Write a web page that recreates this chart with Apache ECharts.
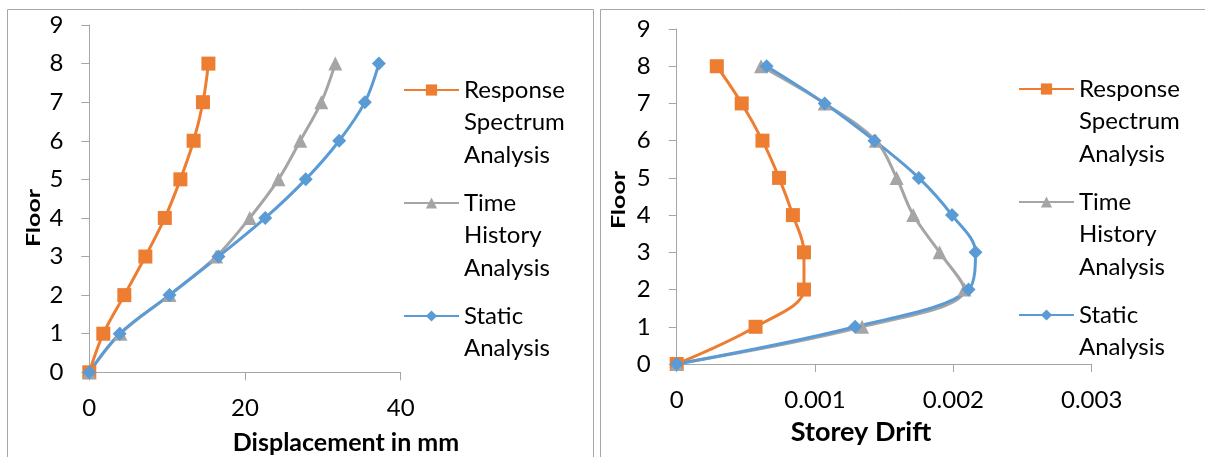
<!DOCTYPE html>
<html>
<head>
<meta charset="utf-8">
<script src="https://cdn.jsdelivr.net/npm/echarts@6/dist/echarts.min.js"></script>
<style>
  html, body { margin: 0; padding: 0; background: #fff; }
  #chart { width: 1205px; height: 457px; }
</style>
</head>
<body>
<div id="chart"></div>
<script>
// Floor levels (shared by both panels)
const floors = [0, 1, 2, 3, 4, 5, 6, 7, 8];

// Lateral displacement (mm) per floor
const dispRS     = [0, 1.8, 4.5, 7.2, 9.7, 11.7, 13.4, 14.6, 15.3];
const dispTH     = [0, 4.0, 10.3, 16.3, 20.6, 24.3, 27.1, 29.8, 31.6];
const dispStatic = [0, 3.9, 10.3, 16.6, 22.6, 27.8, 32.1, 35.4, 37.2];

// Storey drift ratio per floor
const driftRS     = [0, 0.00057, 0.00092, 0.00092, 0.00084, 0.00074, 0.00062, 0.00047, 0.00029];
const driftTH     = [0, 0.00134, 0.00208, 0.00190, 0.00171, 0.00159, 0.00144, 0.00107, 0.00061];
const driftStatic = [0, 0.00129, 0.00211, 0.00216, 0.00199, 0.00175, 0.00143, 0.00107, 0.00065];

const seriesNames = ['Response\nSpectrum\nAnalysis', 'Time\nHistory\nAnalysis', 'Static\nAnalysis'];
const colors = ['#ED7D31', '#A5A5A5', '#5B9BD5'];
const symbols = ['rect', 'triangle', 'diamond'];
const symbolSizes = [14, 14, 14];

const FONT = 'Lato, "Open Sans", sans-serif';
const AXIS_COLOR = '#A6A6A6';
const LEGEND_LINE = 32.5;

function pairs(xs) { return xs.map((x, i) => [x, floors[i]]); }

function makeSeries(values, idx, axisIdx) {
  return {
    name: seriesNames[idx],
    type: 'line',
    xAxisIndex: axisIdx,
    yAxisIndex: axisIdx,
    data: pairs(values),
    smooth: 0.35,
    symbol: symbols[idx],
    symbolSize: symbolSizes[idx],
    showAllSymbol: true,
    color: colors[idx],
    lineStyle: { width: 3, color: colors[idx] },
    itemStyle: { color: colors[idx] },
    animation: false
  };
}

function valueAxis(gridIndex, min, max, interval, margin) {
  return {
    type: 'value',
    gridIndex: gridIndex,
    min: min, max: max, interval: interval,
    splitLine: { show: false },
    axisLine: { show: true, onZero: false, lineStyle: { color: AXIS_COLOR, width: 1 } },
    axisTick: { show: true, length: 8, lineStyle: { color: AXIS_COLOR } },
    axisLabel: { color: '#000', fontFamily: FONT, fontSize: 24, margin: margin }
  };
}

// Each legend label is padded to five lines (two blank lines ahead, the rest
// after) so the marker sits level with the first text line; the negative gap
// closes up the extra space between items.
function legendLabel(name) {
  const n = name.split('\n').length;
  return '\n\n' + name + '\n'.repeat(3 - n);
}

function legendFor(left, firstLineY) {
  return {
    orient: 'vertical',
    left: left,
    top: firstLineY - 2.5 * LEGEND_LINE,
    padding: 0,
    itemWidth: 55,
    itemHeight: 14,
    itemGap: 15.5 - 2 * LEGEND_LINE,
    selectedMode: false,
    data: seriesNames,
    formatter: legendLabel,
    textStyle: {
      color: '#000', fontFamily: FONT, fontSize: 24, lineHeight: LEGEND_LINE
    }
  };
}

function frame(x, y, w, h) {
  return { type: 'rect', shape: { x: x, y: y, width: w, height: h },
           style: { fill: 'none', stroke: '#A6A6A6', lineWidth: 1 }, silent: true };
}

function title(text, x, y, size, rotation, scaleY) {
  return { type: 'text', x: x, y: y, rotation: rotation || 0,
           scaleY: scaleY || 1,
           style: { text: text, fill: '#000', font: 'bold ' + size + 'px ' + FONT,
                    textAlign: 'center', textVerticalAlign: 'middle' }, silent: true };
}

const chart = echarts.init(document.getElementById('chart'), null, { renderer: 'canvas' });
chart.setOption({
  backgroundColor: '#fff',
  animation: false,
  grid: [
    { left: 89.3, top: 25, width: 311.4, height: 347.3 },
    { left: 676.7, top: 29, width: 415, height: 335 }
  ],
  xAxis: [
    valueAxis(0, 0, 40, 20, 24),
    valueAxis(1, 0, 0.003, 0.001, 24)
  ],
  yAxis: [
    valueAxis(0, 0, 9, 1, 26),
    valueAxis(1, 0, 9, 1, 26)
  ],
  legend: [ legendFor(403, 90), legendFor(1018, 89) ],
  series: [
    makeSeries(dispRS, 0, 0),
    makeSeries(dispTH, 1, 0),
    makeSeries(dispStatic, 2, 0),
    makeSeries(driftRS, 0, 1),
    makeSeries(driftTH, 1, 1),
    makeSeries(driftStatic, 2, 1)
  ],
  graphic: [
    frame(7.5, 9.5, 586, 470),
    frame(600.5, 9.5, 640, 470),
    title('Displacement in mm', 346, 443, 25),
    title('Storey Drift', 861, 432, 27),
    title('Floor', 34, 218, 25, Math.PI / 2, 0.72),
    title('Floor', 619, 200, 25, Math.PI / 2, 0.72)
  ]
});
</script>
</body>
</html>
